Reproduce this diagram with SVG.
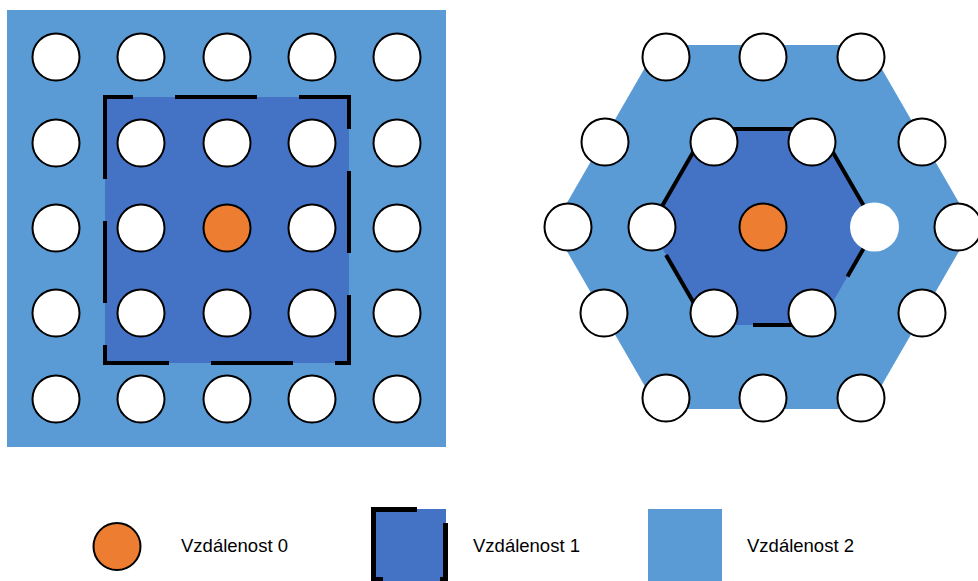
<svg xmlns="http://www.w3.org/2000/svg" width="978" height="581" viewBox="0 0 978 581">
<defs>
<style>
.d2{fill:#5B9BD5;}
.d1{fill:#4472C4;}
.n{fill:#FFFFFF;stroke:#000;stroke-width:2;}
.nn{fill:#FFFFFF;stroke:none;}
.c0{fill:#ED7D31;stroke:#000;stroke-width:2;}
.b{fill:none;stroke:#000;stroke-width:4;stroke-linecap:butt;}
.t{font-family:"Liberation Sans",Arial,sans-serif;font-size:18.5px;fill:#000;}
</style>
</defs>
<rect width="978" height="581" fill="#FFFFFF"/>
<g id="square-grid">
<rect class="d2" x="7" y="10" width="439" height="437"/>
<rect class="d1" x="105" y="97" width="244" height="266"/>
<path class="b" d="M105,97 H349 V363 H105 Z" stroke-dasharray="82 42" stroke-dashoffset="54"/>
<g id="sq-nodes">
<circle class="n" cx="56" cy="57" r="23.5"/><circle class="n" cx="141" cy="57" r="23.5"/><circle class="n" cx="227" cy="57" r="23.5"/><circle class="n" cx="312" cy="57" r="23.5"/><circle class="n" cx="397" cy="57" r="23.5"/>
<circle class="n" cx="56" cy="143" r="23.5"/><circle class="n" cx="141" cy="143" r="23.5"/><circle class="n" cx="227" cy="143" r="23.5"/><circle class="n" cx="312" cy="143" r="23.5"/><circle class="n" cx="397" cy="143" r="23.5"/>
<circle class="n" cx="56" cy="228" r="23.5"/><circle class="n" cx="141" cy="228" r="23.5"/><circle class="c0" cx="227" cy="228" r="23.5"/><circle class="n" cx="312" cy="228" r="23.5"/><circle class="n" cx="397" cy="228" r="23.5"/>
<circle class="n" cx="56" cy="313" r="23.5"/><circle class="n" cx="141" cy="313" r="23.5"/><circle class="n" cx="227" cy="313" r="23.5"/><circle class="n" cx="312" cy="313" r="23.5"/><circle class="n" cx="397" cy="313" r="23.5"/>
<circle class="n" cx="56" cy="399" r="23.5"/><circle class="n" cx="141" cy="399" r="23.5"/><circle class="n" cx="227" cy="399" r="23.5"/><circle class="n" cx="312" cy="399" r="23.5"/><circle class="n" cx="397" cy="399" r="23.5"/>
</g>
</g>
<g id="hex-grid">
<polygon class="d2" points="553,227 658,45 868,45 973,227 868,409 658,409"/>
<polygon class="d1" points="650,227 706.5,129 819.5,129 876,227 819.5,325 706.5,325"/>
<g id="hex-border">
<path class="b" d="M650,227 L706.5,129 H819.5 L876,227 L847.5,276.4"/>
<path class="b" d="M819.5,325 H753"/>
<path class="b" d="M706.5,325 L666,254.9"/>
</g>
<g id="hex-nodes">
<circle class="n" cx="666" cy="57" r="23.5"/><circle class="n" cx="763" cy="57" r="23.5"/><circle class="n" cx="861" cy="57" r="23.5"/>
<circle class="n" cx="605" cy="142" r="23.5"/><circle class="n" cx="714" cy="142" r="23.5"/><circle class="n" cx="812" cy="142" r="23.5"/><circle class="n" cx="922" cy="142" r="23.5"/>
<circle class="n" cx="568" cy="227" r="23.5"/><circle class="n" cx="652" cy="227" r="23.5"/><circle class="c0" cx="763" cy="227" r="23.5"/><circle class="nn" cx="874.5" cy="227" r="24.5"/><circle class="n" cx="958" cy="227" r="23.5"/>
<circle class="n" cx="604" cy="313" r="23.5"/><circle class="n" cx="714" cy="313" r="23.5"/><circle class="n" cx="812" cy="313" r="23.5"/><circle class="n" cx="922" cy="313" r="23.5"/>
<circle class="n" cx="666" cy="398" r="23.5"/><circle class="n" cx="763" cy="398" r="23.5"/><circle class="n" cx="861" cy="398" r="23.5"/>
</g>
</g>
<g id="legend-0">
<circle class="c0" cx="117" cy="546.5" r="23.5"/>
<text class="t" x="181" y="552">Vzdálenost 0</text>
</g>
<g id="legend-1">
<rect class="d1" x="375" y="509" width="71" height="72"/>
<path fill="none" stroke="#000" stroke-width="5" d="M371,509.5 H417 M373.5,507 V581 M445.5,523 V581 M371,579.5 H383 M440,579.5 H448"/>
<text class="t" x="473" y="552">Vzdálenost 1</text>
</g>
<g id="legend-2">
<rect class="d2" x="648" y="509" width="74" height="72"/>
<text class="t" x="747" y="552">Vzdálenost 2</text>
</g>
</svg>
